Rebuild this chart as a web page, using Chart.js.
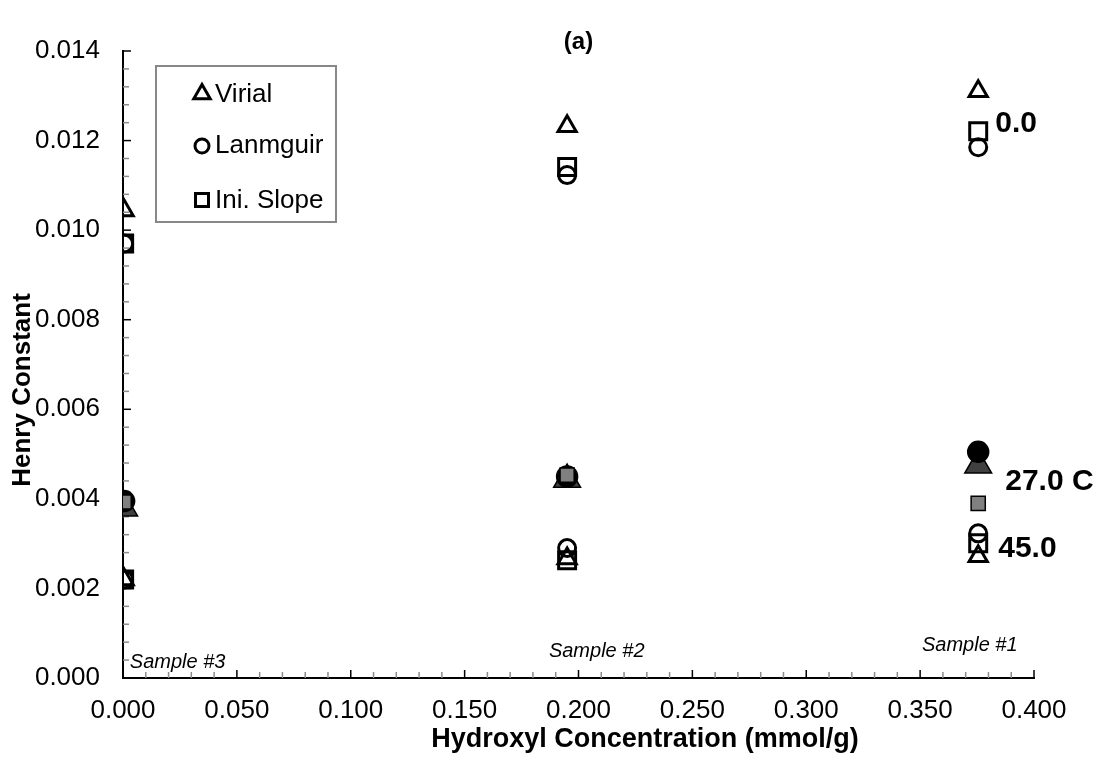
<!DOCTYPE html>
<html>
<head>
<meta charset="utf-8">
<script src="https://cdn.jsdelivr.net/npm/chart.js@4.4.1/dist/chart.umd.min.js"></script>
<style>
  html, body { margin: 0; padding: 0; background: #fff; }
  #wrap { width: 1107px; height: 761px; position: relative; }
</style>
</head>
<body>
<div id="wrap"><canvas id="henryChart"></canvas></div>
<script>
// hydroxyl concentration of the three samples (mmol/g)
const concentrations = [0.0005, 0.195, 0.3755];
const sampleNames = ['Sample #3', 'Sample #2', 'Sample #1'];
const methodNames = ['Virial', 'Lanmguir', 'Ini. Slope'];
const tempNames = ['0.0', '27.0 C', '45.0'];

// Henry constants
const virial0 = [0.01044, 0.01232, 0.01310];
const langmuir0 = [0.00970, 0.01123, 0.01185];
const slope0 = [0.00970, 0.01141, 0.01221];

const virial27 = [0.00379, 0.00443, 0.00475];
const langmuir27 = [0.00395, 0.00450, 0.00505];
const slope27 = [0.00393, 0.00453, 0.00390];

const virial45 = [0.00220, 0.00267, 0.00272];
const langmuir45 = [0.00220, 0.00290, 0.00323];
const slope45 = [0.00220, 0.00263, 0.00301];

const yTickStep = 0.002;
const xTickStep = 0.05;

const FONT = '"Liberation Sans", Arial, sans-serif';

function pts(values) {
    return values.map((v, i) => ({ x: concentrations[i], y: v }));
}

// open markers for 0 and 45 C, filled ones for 27 C
function openSet(label, values, style, radius, order) {
    return {
        label: label,
        data: pts(values),
        pointStyle: style,
        pointRadius: radius,
        pointBorderWidth: 3,
        pointBorderColor: '#000',
        pointBackgroundColor: 'rgba(0,0,0,0)',
        showLine: false,
        order: order
    };
}

function filledSet(label, values, style, radius, fill, order) {
    return {
        label: label,
        data: pts(values),
        pointStyle: style,
        pointRadius: radius,
        pointBorderWidth: 1.5,
        pointBorderColor: '#000',
        pointBackgroundColor: fill,
        showLine: false,
        order: order
    };
}

const datasets = [
    openSet('Virial 0.0', virial0, 'triangle', 10.5, 3),
    openSet('Lanmguir 0.0', langmuir0, 'circle', 8.5, 2),
    openSet('Ini. Slope 0.0', slope0, 'rect', 12, 1),
    filledSet('Virial 27.0', virial27, 'triangle', 15.5, '#404040', 3),
    filledSet('Lanmguir 27.0', langmuir27, 'circle', 10.5, '#000', 2),
    filledSet('Ini. Slope 27.0', slope27, 'rect', 10, '#808080', 1),
    openSet('Virial 45.0', virial45, 'triangle', 10.5, 3),
    openSet('Lanmguir 45.0', langmuir45, 'circle', 8.5, 2),
    openSet('Ini. Slope 45.0', slope45, 'rect', 12, 1)
];

// small inside tick marks, black for major and grey for minor
const tickMarks = {
    id: 'tickMarks',
    beforeDatasetsDraw(chart) {
        const { ctx, scales: { x, y }, chartArea: a } = chart;
        ctx.save();
        ctx.lineWidth = 1.5;
        for (let i = 0; i <= 40; i++) {
            const px = x.getPixelForValue(i * 0.01);
            const major = i % 5 === 0;
            ctx.strokeStyle = major ? '#000' : '#8c8c8c';
            ctx.beginPath();
            ctx.moveTo(px, a.bottom);
            ctx.lineTo(px, a.bottom - (major ? 8 : 6));
            ctx.stroke();
        }
        for (let i = 0; i <= 35; i++) {
            const py = y.getPixelForValue(i * 0.0004);
            const major = i % 5 === 0;
            ctx.strokeStyle = major ? '#000' : '#8c8c8c';
            ctx.beginPath();
            ctx.moveTo(a.left, py);
            ctx.lineTo(a.left + (major ? 8 : 6), py);
            ctx.stroke();
        }
        ctx.restore();
    }
};

// titles, sample names, temperature labels and the legend box
const annotations = {
    id: 'annotations',
    afterDraw(chart) {
        const { ctx, scales: { x, y }, chartArea: a } = chart;
        ctx.save();
        ctx.fillStyle = '#000';

        ctx.font = 'bold 24px ' + FONT;
        ctx.textAlign = 'center';
        ctx.textBaseline = 'middle';
        ctx.fillText('(a)', (a.left + a.right) / 2, 42);

        ctx.font = 'bold 27px ' + FONT;
        ctx.fillText('Hydroxyl Concentration (mmol/g)', 645, 740);
        ctx.font = 'bold 26px ' + FONT;
        ctx.save();
        ctx.translate(23, 390);
        ctx.rotate(-Math.PI / 2);
        ctx.fillText('Henry Constant', 0, 0);
        ctx.restore();

        // sample names just above the x axis
        ctx.font = 'italic 20px ' + FONT;
        ctx.textAlign = 'left';
        ctx.textBaseline = 'alphabetic';
        const samplePos = [[0.003, 0.00022], [0.187, 0.00046], [0.3508, 0.0006]];
        sampleNames.forEach((s, i) => {
            ctx.fillText(s, x.getPixelForValue(samplePos[i][0]), y.getPixelForValue(samplePos[i][1]));
        });

        // temperature labels beside Sample #1
        ctx.font = 'bold 30px ' + FONT;
        const tempPos = [[17, 0.01220], [27, 0.00420], [20, 0.00270]];
        const lastX = x.getPixelForValue(concentrations[2]);
        tempNames.forEach((t, i) => {
            ctx.fillText(t, lastX + tempPos[i][0], y.getPixelForValue(tempPos[i][1]));
        });

        // legend
        const bx = a.left + 33, by = a.top + 15;
        ctx.strokeStyle = '#888';
        ctx.lineWidth = 2;
        ctx.strokeRect(bx, by, 180, 156);

        ctx.strokeStyle = '#000';
        ctx.lineWidth = 3;
        const mx = bx + 46;
        // triangle
        let cy = by + 28, r = 9.5;
        ctx.beginPath();
        ctx.moveTo(mx, cy - r);
        ctx.lineTo(mx + r * 0.866, cy + r / 2);
        ctx.lineTo(mx - r * 0.866, cy + r / 2);
        ctx.closePath();
        ctx.stroke();
        // circle
        ctx.beginPath();
        ctx.arc(mx, by + 80, 7, 0, Math.PI * 2);
        ctx.stroke();
        // square
        ctx.strokeRect(mx - 6.5, by + 134 - 6.5, 13, 13);

        ctx.font = '26px ' + FONT;
        ctx.textAlign = 'left';
        ctx.fillText(methodNames[0], bx + 59, by + 36);
        ctx.fillText(methodNames[1], bx + 59, by + 87);
        ctx.fillText(methodNames[2], bx + 59, by + 142);
        ctx.restore();
    }
};

new Chart(document.getElementById('henryChart'), {
    type: 'scatter',
    data: { datasets: datasets },
    options: {
        responsive: true,
        maintainAspectRatio: false,
        animation: false,
        events: [],
        layout: { padding: { top: 51, right: 73, left: 0, bottom: 0 } },
        scales: {
            x: {
                type: 'linear',
                min: 0,
                max: 0.4,
                afterFit: s => { s.height = 83; },
                ticks: {
                    stepSize: xTickStep,
                    padding: 17,
                    color: '#000',
                    font: { family: FONT, size: 26 },
                    callback: v => v.toFixed(3)
                },
                grid: { display: true, drawOnChartArea: false, drawTicks: false },
                border: { display: true, color: '#000', width: 2 }
            },
            y: {
                type: 'linear',
                min: 0,
                max: 0.014,
                afterFit: s => { s.width = 123; },
                ticks: {
                    stepSize: yTickStep,
                    padding: 23,
                    color: '#000',
                    font: { family: FONT, size: 26 },
                    callback: v => v.toFixed(3)
                },
                grid: { display: true, drawOnChartArea: false, drawTicks: false },
                border: { display: true, color: '#000', width: 2 }
            }
        },
        plugins: {
            legend: { display: false },
            tooltip: { enabled: false }
        }
    },
    plugins: [tickMarks, annotations]
});
</script>
</body>
</html>
